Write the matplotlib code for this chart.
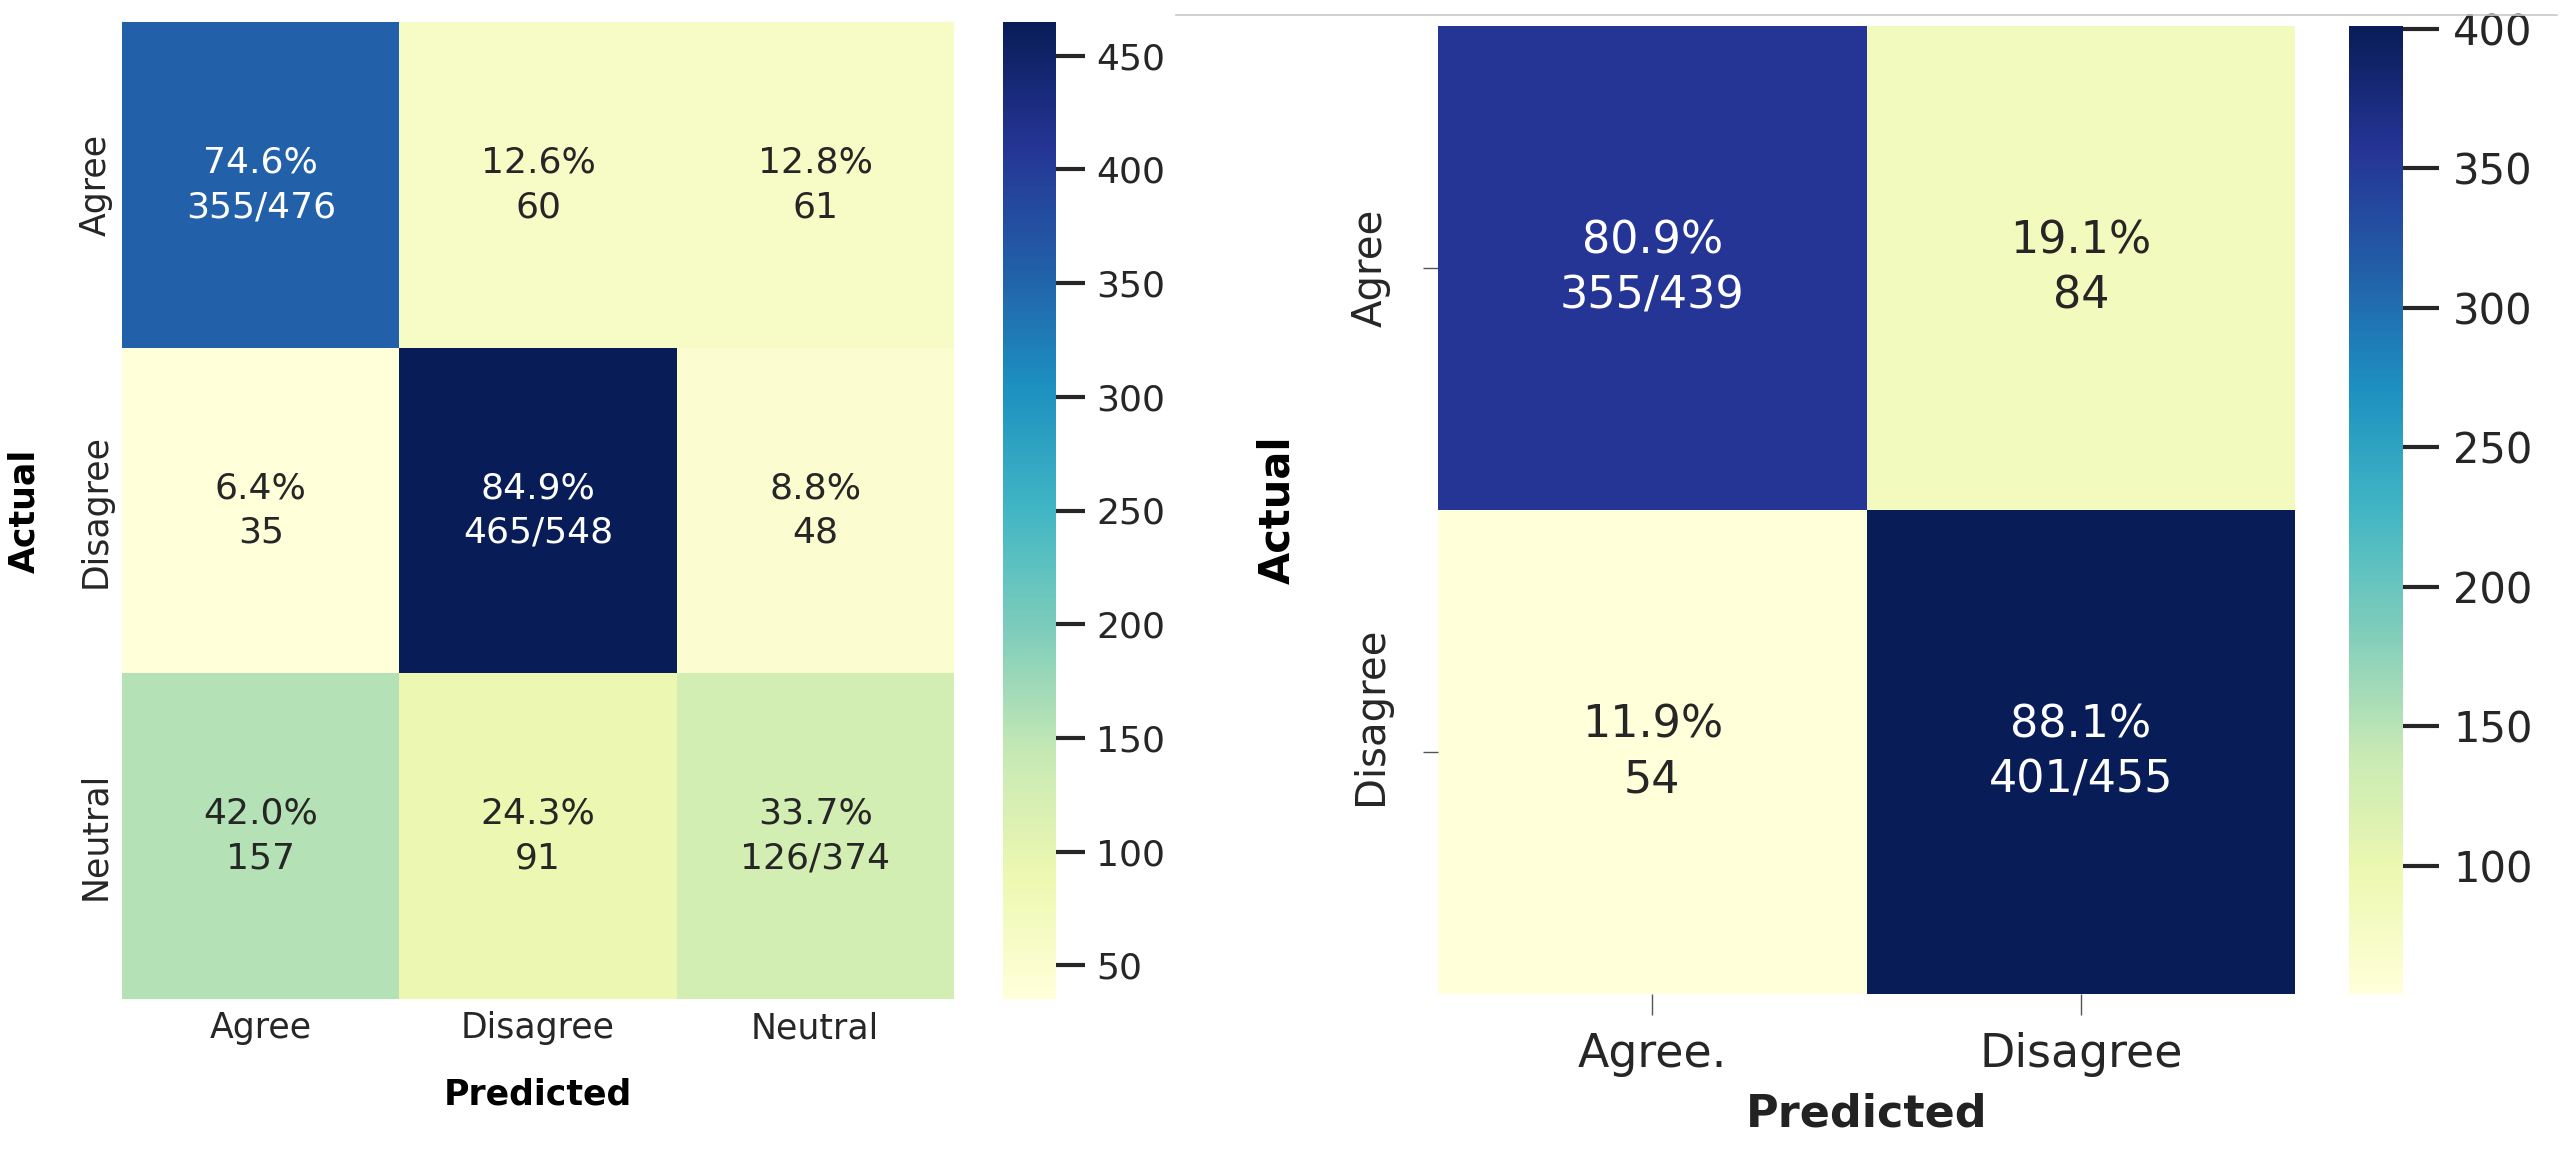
import numpy as np
import matplotlib
matplotlib.use('Agg')
import matplotlib.pyplot as plt
import matplotlib.transforms as mtransforms
from matplotlib.lines import Line2D
import seaborn as sns

plt.rcParams['font.family'] = ['DejaVu Sans']

# ---------------- data ----------------
left_x_labels = ['Agree', 'Disagree', 'Neutral']
left_y_labels = ['Agree', 'Disagree', 'Neutral']
left_counts = [[355, 60, 61],
               [35, 465, 48],
               [157, 91, 126]]
left_cbar_ticks = [50, 100, 150, 200, 250, 300, 350, 400, 450]

right_x_labels = ['Agree.', 'Disagree']
right_y_labels = ['Agree', 'Disagree']
right_counts = [[355, 84],
                [54, 401]]
right_cbar_ticks = [100, 150, 200, 250, 300, 350, 400]


def make_annot(cm):
    cm = np.asarray(cm)
    sums = cm.sum(axis=1)
    out = np.empty(cm.shape, dtype=object)
    for i in range(cm.shape[0]):
        for j in range(cm.shape[1]):
            p = cm[i, j] / sums[i] * 100
            if i == j:
                out[i, j] = f"{p:.1f}%\n{cm[i, j]}/{sums[i]}"
            else:
                out[i, j] = f"{p:.1f}%\n{cm[i, j]}"
    return out


W, H = 2572, 1151
fig = plt.figure(figsize=(W / 100, H / 100), dpi=100)


def rect(x0, y0, x1, y1):
    return [x0 / W, 1 - y1 / H, (x1 - x0) / W, (y1 - y0) / H]


# ---------------- left chart ----------------
axL = fig.add_axes(rect(122.3, 21.7, 953.7, 999.3))
caxL = fig.add_axes(rect(1003, 21.7, 1055.7, 999.3))
sns.heatmap(np.array(left_counts), annot=make_annot(left_counts), fmt='',
            cmap='YlGnBu', ax=axL, cbar_ax=caxL,
            xticklabels=left_x_labels, yticklabels=left_y_labels,
            annot_kws={'size': 26, 'linespacing': 1.4})
axL.tick_params(axis='x', length=0, labelsize=25, labelcolor='#262626', pad=8.5)
axL.tick_params(axis='y', length=0, labelsize=25, labelcolor='#262626', pad=7)
for lbl in axL.get_yticklabels():
    lbl.set_rotation(90)
    lbl.set_va('center')
for lbl in axL.get_xticklabels():
    lbl.set_rotation(0)
axL.set_ylabel('Actual', fontsize=25, fontweight='bold', color='black', va='center')
axL.set_xlabel('Predicted', fontsize=25, fontweight='bold', color='black', va='center')
axL.yaxis.set_label_coords(-0.1182, 0.5)
axL.xaxis.set_label_coords(0.5, -0.0969)

caxL.set_yticks(left_cbar_ticks)
caxL.tick_params(length=21, width=3, labelsize=26, pad=8,
                 color='#262626', labelcolor='#262626')

# ---------------- right chart ----------------
axR = fig.add_axes(rect(1438, 26, 2295.3, 994.3))
caxR = fig.add_axes(rect(2349.3, 26, 2403, 994.3))
sns.heatmap(np.array(right_counts), annot=make_annot(right_counts), fmt='',
            cmap='YlGnBu', ax=axR, cbar_ax=caxR,
            xticklabels=right_x_labels, yticklabels=right_y_labels,
            annot_kws={'size': 32, 'linespacing': 1.35})
axR.tick_params(axis='x', length=15, width=1, color='#555555',
                labelsize=33, labelcolor='#262626', pad=12)
axR.tick_params(axis='y', length=11, width=1, color='#555555',
                labelsize=29, labelcolor='#262626', pad=23)
for lbl in axR.get_yticklabels():
    lbl.set_rotation(90)
    lbl.set_va('center')
for lbl in axR.get_xticklabels():
    lbl.set_rotation(0)
# the "Disagree" row label sits slightly above its tick in the reference
dis = axR.get_yticklabels()[1]
dis.set_transform(dis.get_transform() +
                  mtransforms.ScaledTranslation(0, 36 / 100, fig.dpi_scale_trans))
axR.set_ylabel('Actual', fontsize=30, fontweight='bold', color='black', va='center')
axR.set_xlabel('Predicted', fontsize=32, fontweight='bold', color='#222222', va='center')
axR.yaxis.set_label_coords(-0.1878, 0.5)
axR.xaxis.set_label_coords(0.5, -0.1236)

caxR.set_yticks(right_cbar_ticks)
caxR.tick_params(length=26, width=3, labelsize=30, pad=10,
                 color='#262626', labelcolor='#262626')

# thin separator line at the top of the right panel
fig.add_artist(Line2D([1176 / W, 2557 / W], [1 - 15 / H, 1 - 15 / H],
                      transform=fig.transFigure, color='#c8c8c8', lw=1.2))

fig.savefig('out.png', dpi=100)
